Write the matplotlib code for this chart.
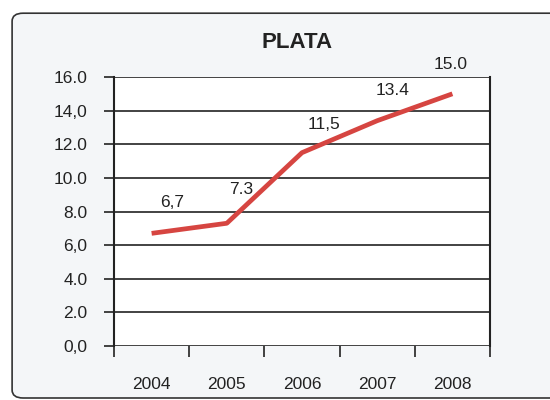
import numpy as np
import matplotlib.pyplot as plt
from matplotlib.patches import FancyBboxPatch

plt.rcParams['font.family'] = ['Liberation Sans', 'DejaVu Sans']

# data
years = ['2004', '2005', '2006', '2007', '2008']
values = [6.7, 7.3, 11.5, 13.4, 15.0]
value_labels = ['6,7', '7.3', '11,5', '13.4', '15.0']
ytick_vals = [0, 2, 4, 6, 8, 10, 12, 14, 16]
ytick_labels = ['0,0', '2.0', '4.0', '6,0', '8.0', '10.0', '12.0', '14,0', '16.0']

# label offsets in points (style)
label_offsets = [(15, 22), (10, 24), (16, 20), (11, 22), (-1, 21)]

fig = plt.figure(figsize=(5.5, 4), dpi=100, facecolor='white')

# rounded outer frame
frame = FancyBboxPatch((0.022, 0.005), 1.2, 0.962,
                       boxstyle='round,pad=0,rounding_size=0.02',
                       transform=fig.transFigure, facecolor='#f4f6f8',
                       edgecolor='#333333', linewidth=1.2, zorder=-5)
fig.patches.append(frame)

ax = fig.add_axes([0.2073, 0.135, 0.6836, 0.6725])
ax.set_zorder(2)
ax.set_facecolor('white')

x = np.arange(len(years))
ax.plot(x, values, color='#d64541', linewidth=3.4, solid_capstyle='butt', zorder=3)

for xi, v, lab, off in zip(x, values, value_labels, label_offsets):
    ax.annotate(lab, (xi, v), xytext=off, textcoords='offset points',
                ha='center', va='center', fontsize=12.5, color='#222222')

ax.set_xlim(-0.5, len(years) - 0.5)
ax.set_ylim(0, 16)

ax.set_yticks(ytick_vals)
ax.set_yticklabels(ytick_labels)
ax.tick_params(axis='y', length=7.2, width=1.2, color='#222222', pad=12,
               labelsize=12.5, labelcolor='#222222')
ax.yaxis.grid(True, color='#222222', linewidth=1.2)
ax.set_axisbelow(True)

ax.set_xticks(x)
ax.set_xticklabels(years)
ax.set_xticks(np.arange(-0.5, len(years)), minor=True)
ax.tick_params(axis='x', which='major', length=0, pad=22,
               labelsize=12.5, labelcolor='#222222')
ax.tick_params(axis='x', which='minor', length=8, width=1.2, color='#222222')

for side in ['top', 'bottom']:
    ax.spines[side].set_visible(False)
for side in ['left', 'right']:
    ax.spines[side].set_color('#222222')
    ax.spines[side].set_linewidth(1.5)

fig.text(0.54, 0.893, 'PLATA', ha='center', va='center',
         fontsize=16, fontweight='bold', color='#222222')

fig.savefig('out.png', dpi=100, facecolor=fig.get_facecolor())
